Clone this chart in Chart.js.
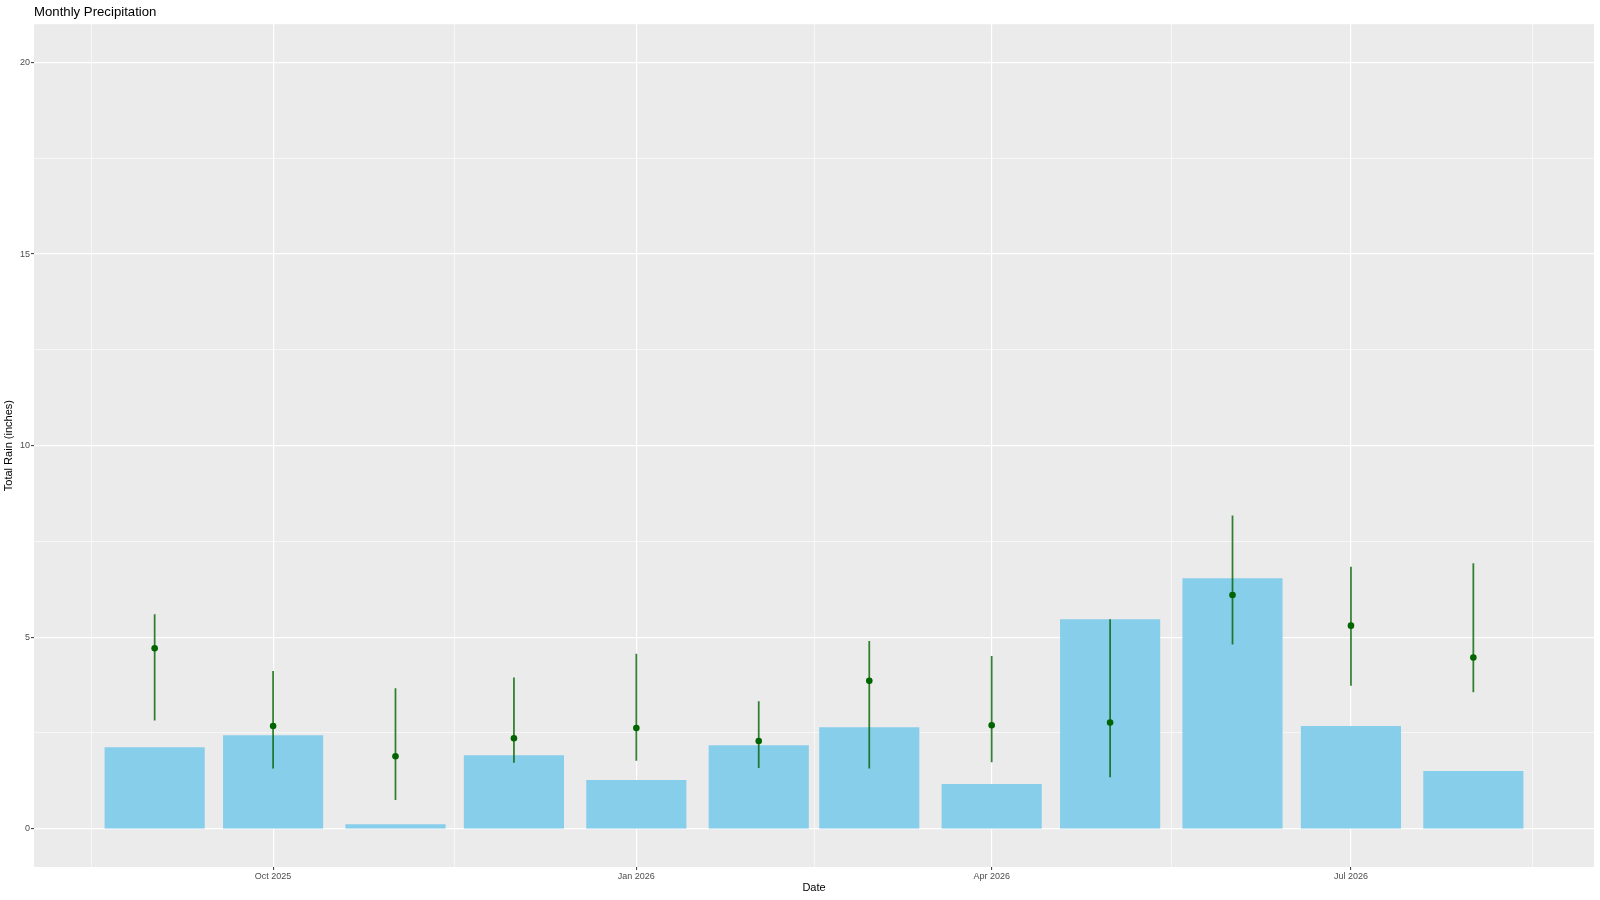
<!DOCTYPE html>
<html>
<head>
<meta charset="utf-8">
<title>Monthly Precipitation</title>
<script src="https://cdn.jsdelivr.net/npm/chart.js@4.4.1/dist/chart.umd.min.js"></script>
<style>
    html, body { margin: 0; padding: 0; background: #ffffff; }
    #wrap { width: 1600px; height: 900px; position: relative; }
</style>
</head>
<body>
<div id="wrap"><canvas id="rainChart"></canvas></div>
<script>
// Months (bars sit on the 1st of each month)
const months = ['2025-09-01', '2025-10-01', '2025-11-01', '2025-12-01', '2026-01-01', '2026-02-01',
                '2026-03-01', '2026-04-01', '2026-05-01', '2026-06-01', '2026-07-01', '2026-08-01'];
// Total rain per month (bars)
const rainTotal = [2.12, 2.43, 0.11, 1.91, 1.26, 2.17, 2.64, 1.16, 5.46, 6.53, 2.67, 1.50];
// Point estimate with its low / high range
const rainMid  = [4.71, 2.68, 1.89, 2.36, 2.63, 2.29, 3.86, 2.70, 2.77, 6.10, 5.30, 4.47];
const rainLow  = [2.83, 1.58, 0.76, 1.73, 1.78, 1.59, 1.58, 1.74, 1.35, 4.82, 3.74, 3.57];
const rainHigh = [5.59, 4.11, 3.66, 3.94, 4.56, 3.32, 4.89, 4.50, 5.46, 8.17, 6.83, 6.92];

// Axis breaks
const xMajorDates  = ['2025-07-01', '2025-10-01', '2026-01-01', '2026-04-01', '2026-07-01', '2026-10-01'];
const xMajorLabels = ['Jul 2025', 'Oct 2025', 'Jan 2026', 'Apr 2026', 'Jul 2026', 'Oct 2026'];
const yMajorTicks  = [0, 5, 10, 15, 20];
const yMinorTicks  = [2.5, 7.5, 12.5, 17.5];

document.addEventListener('DOMContentLoaded', function() {
    const toDay = (s) => {
        const p = s.split('-').map(Number);
        return Date.UTC(p[0], p[1] - 1, p[2]) / 86400000;
    };

    const monthDays = months.map(toDay);
    const barWidthDays = 0.9 * 28;

    // x limits like ggplot: data extent plus 5% each side
    const first = monthDays[0];
    const last = monthDays[monthDays.length - 1];
    const span = (last - first) + barWidthDays;
    const xMin = first - barWidthDays / 2 - span * 0.05;
    const xMax = last + barWidthDays / 2 + span * 0.05;

    // major and minor x ticks
    const majorDays = xMajorDates.map(toDay);
    const xLabelMap = {};
    majorDays.forEach((d, i) => { xLabelMap[d] = xMajorLabels[i]; });
    let xTicks = [];
    for (let i = 0; i < majorDays.length; i++) {
        xTicks.push(majorDays[i]);
        if (i < majorDays.length - 1) xTicks.push((majorDays[i] + majorDays[i + 1]) / 2);
    }
    xTicks = xTicks.filter(v => v >= xMin && v <= xMax);
    const isMajorX = (v) => xLabelMap[v] !== undefined;

    const yTicks = yMajorTicks.concat(yMinorTicks).sort((a, b) => a - b);
    const isMajorY = (v) => yMajorTicks.indexOf(v) !== -1;

    // grey panel behind the grid
    const panelBg = {
        id: 'panelBg',
        beforeDraw(chart) {
            const a = chart.chartArea;
            const c = chart.ctx;
            c.save();
            c.fillStyle = '#ebebeb';
            c.fillRect(a.left, a.top, a.right - a.left, a.bottom - a.top);
            c.restore();
        }
    };

    Chart.defaults.font.family = '"Liberation Sans", Arial, sans-serif';

    const ctx = document.getElementById('rainChart').getContext('2d');
    const rainChart = new Chart(ctx, {
        type: 'bar',
        data: {
            datasets: [{
                label: 'Total Rain',
                data: monthDays.map((d, i) => ({ x: d, y: rainTotal[i] })),
                backgroundColor: '#87ceeb',
                grouped: false,
                barThickness: 98,
                order: 3
            }, {
                label: 'Range',
                data: monthDays.map((d, i) => ({ x: d, y: [rainLow[i], rainHigh[i]] })),
                backgroundColor: 'rgba(0, 100, 0, 0.8)',
                grouped: false,
                barThickness: 1.1,
                order: 2
            }, {
                type: 'scatter',
                label: 'Estimate',
                data: monthDays.map((d, i) => ({ x: d, y: rainMid[i] })),
                pointRadius: 3.3,
                pointBackgroundColor: '#006400',
                pointBorderWidth: 0,
                order: 1
            }]
        },
        options: {
            responsive: true,
            maintainAspectRatio: false,
            animation: false,
            layout: {
                padding: { left: 0, right: 6, top: 0, bottom: 0 }
            },
            plugins: {
                legend: { display: false },
                tooltip: { enabled: false },
                title: {
                    display: true,
                    text: 'Monthly Precipitation',
                    align: 'start',
                    fullSize: false,
                    color: '#000000',
                    font: { size: 13.2, weight: 'normal' },
                    padding: { top: 4, bottom: 4.4 }
                }
            },
            scales: {
                x: {
                    type: 'linear',
                    min: xMin,
                    max: xMax,
                    offset: false,
                    afterBuildTicks: (scale) => { scale.ticks = xTicks.map(v => ({ value: v })); },
                    afterFit: (scale) => { scale.height = 33; },
                    border: { display: false },
                    grid: {
                        offset: false,
                        color: '#ffffff',
                        lineWidth: (c) => isMajorX(c.tick.value) ? 1.2 : 0.6,
                        tickColor: (c) => isMajorX(c.tick.value) ? '#333333' : 'rgba(0, 0, 0, 0)',
                        tickLength: 3,
                        tickWidth: 1
                    },
                    ticks: {
                        autoSkip: false,
                        maxRotation: 0,
                        padding: 1,
                        color: '#4d4d4d',
                        font: { size: 9 },
                        callback: (v) => xLabelMap[v] || ''
                    },
                    title: {
                        display: true,
                        text: 'Date',
                        color: '#000000',
                        font: { size: 11 },
                        padding: { top: 0, bottom: 5 }
                    }
                },
                y: {
                    min: -1,
                    max: 21,
                    afterBuildTicks: (scale) => { scale.ticks = yTicks.map(v => ({ value: v })); },
                    afterFit: (scale) => { scale.width = 34; },
                    border: { display: false },
                    grid: {
                        color: '#ffffff',
                        lineWidth: (c) => isMajorY(c.tick.value) ? 1.2 : 0.6,
                        tickColor: (c) => isMajorY(c.tick.value) ? '#333333' : 'rgba(0, 0, 0, 0)',
                        tickLength: 3,
                        tickWidth: 1
                    },
                    ticks: {
                        padding: 1,
                        color: '#4d4d4d',
                        font: { size: 9 },
                        callback: (v) => isMajorY(v) ? String(v) : ''
                    },
                    title: {
                        display: true,
                        text: 'Total Rain (inches)',
                        color: '#000000',
                        font: { size: 11 },
                        padding: { top: 2, bottom: 0 }
                    }
                }
            }
        },
        plugins: [panelBg]
    });

    // bar width = 0.9 of the 28-day resolution, converted to pixels on the x scale
    const xs = rainChart.scales.x;
    const pxPerDay = (xs.getPixelForValue(xMax) - xs.getPixelForValue(xMin)) / (xMax - xMin);
    rainChart.data.datasets[0].barThickness = barWidthDays * pxPerDay;
    rainChart.update('none');
});
</script>
</body>
</html>
